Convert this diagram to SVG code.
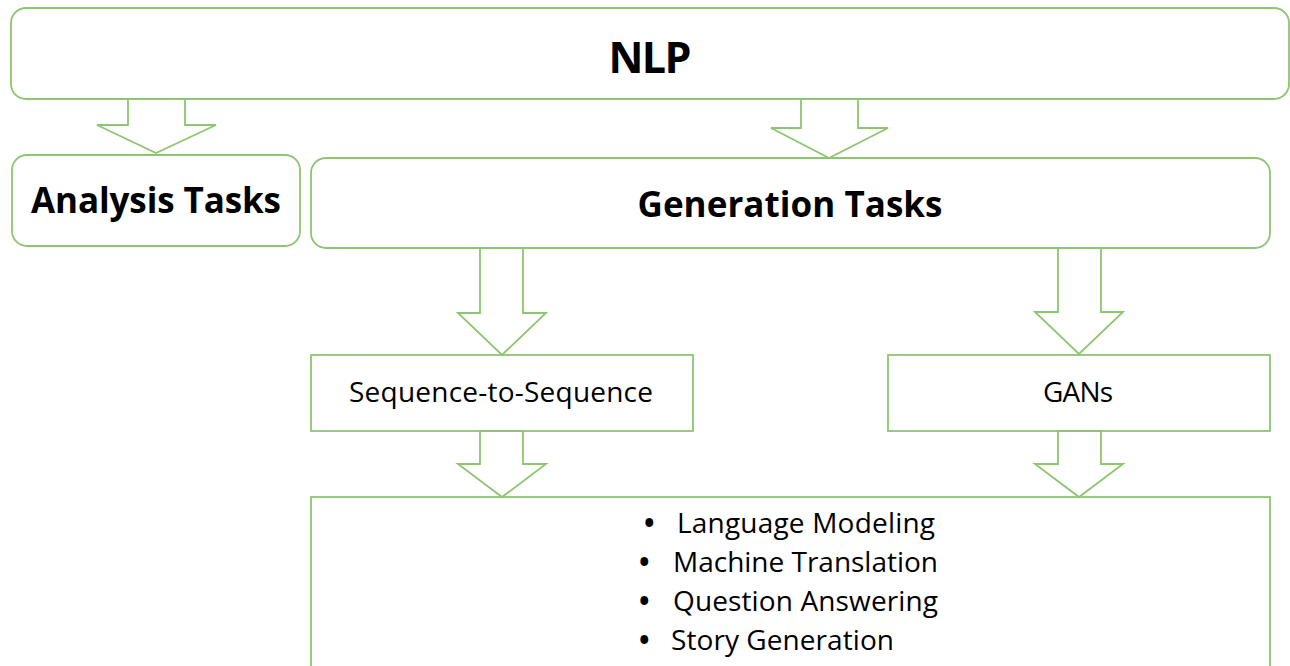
<svg xmlns="http://www.w3.org/2000/svg" width="1290" height="666" viewBox="0 0 1290 666">
<style>
.box{fill:#fff;stroke:#8DC572;stroke-width:1.8}
.arr{fill:#fff;stroke:#8DC572;stroke-width:1.8;stroke-linejoin:miter}
.t{font-family:"Open Sans","Liberation Sans",sans-serif;fill:#000}
.b{font-weight:bold}
.bu{font-weight:bold}
</style>
<rect width="1290" height="666" fill="#fff"/>
<g id="nlp"><rect class="box" x="11" y="8" width="1278" height="91" rx="15"/>
<text class="t b" x="650" y="73" font-size="43" text-anchor="middle" textLength="83">NLP</text></g>
<g id="analysis"><rect class="box" x="12" y="155" width="288" height="91" rx="15"/>
<text class="t b" x="156" y="213" font-size="35" text-anchor="middle" textLength="250">Analysis Tasks</text></g>
<g id="generation"><rect class="box" x="311" y="158" width="959" height="90" rx="15"/>
<text class="t b" x="790" y="217" font-size="35" text-anchor="middle" textLength="305">Generation Tasks</text></g>
<g id="seq2seq"><rect class="box" x="311" y="355" width="382" height="76"/>
<text class="t" x="501" y="402" font-size="28" text-anchor="middle" textLength="304">Sequence-to-Sequence</text></g>
<g id="gans"><rect class="box" x="888" y="355" width="382" height="76"/>
<text class="t" x="1078" y="402" font-size="28" text-anchor="middle" textLength="70">GANs</text></g>
<g id="apps"><rect class="box" x="311" y="497" width="959" height="190"/>
<g class="t" font-size="28">
<text class="bu" x="644" y="533">•</text><text x="677" y="533" textLength="258">Language Modeling</text>
<text class="bu" x="639" y="572">•</text><text x="673" y="572" textLength="265">Machine Translation</text>
<text class="bu" x="639" y="611">•</text><text x="673" y="611" textLength="265">Question Answering</text>
<text class="bu" x="639" y="650">•</text><text x="671" y="650" textLength="223">Story Generation</text>
</g></g>
<g id="connectors">
<polygon class="arr" points="128,99 185,99 185,125 216,125 156,153 97,125 128,125"/>
<polygon class="arr" points="801,99 858,99 858,128 888,128 829,158 771,128 801,128"/>
<polygon class="arr" points="480,248 523,248 523,313 546,313 502,355 458,313 480,313"/>
<polygon class="arr" points="1058,248 1101,248 1101,312 1123,312 1079,354 1035,312 1058,312"/>
<polygon class="arr" points="480,431 523,431 523,464 546,464 502,497 458,464 480,464"/>
<polygon class="arr" points="1058,431 1101,431 1101,464 1123,464 1079,497 1035,464 1058,464"/>
</g>
</svg>
